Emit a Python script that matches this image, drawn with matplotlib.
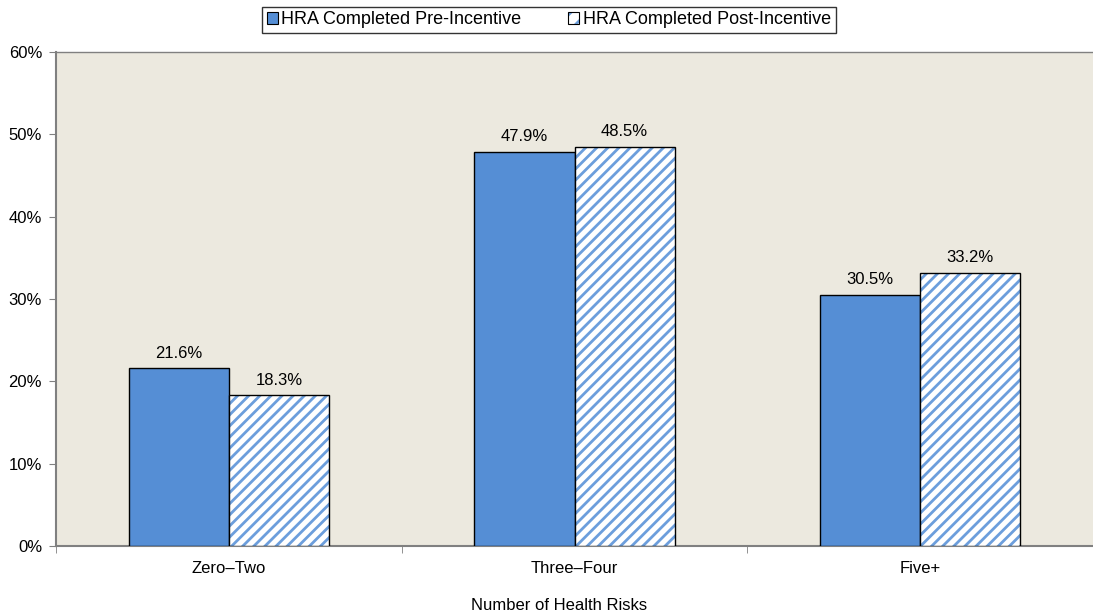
import matplotlib
matplotlib.use("Agg")
import matplotlib.pyplot as plt
from matplotlib.patches import Patch
from matplotlib.legend_handler import HandlerTuple

categories = ["Zero\u2013Two", "Three\u2013Four", "Five+"]
pre_incentive = [21.6, 47.9, 30.5]
post_incentive = [18.3, 48.5, 33.2]
series_names = ["HRA Completed Pre-Incentive", "HRA Completed Post-Incentive"]
y_ticks = [0, 10, 20, 30, 40, 50, 60]

blue = "#558ED5"
stripe = "#6C9EDC"
plt.rcParams["font.family"] = ["Liberation Sans", "DejaVu Sans"]
plt.rcParams["hatch.linewidth"] = 2.0

fig = plt.figure(figsize=(10.93, 6.15), dpi=100)
ax = fig.add_axes([56 / 1093, 1 - 546 / 615, (1093 - 56) / 1093, (546 - 52) / 615])
ax.set_facecolor("#ECE9DF")

x = list(range(len(categories)))
w = 0.29
pre_x = [i - w / 2 for i in x]
post_x = [i + w / 2 for i in x]
b1 = ax.bar(pre_x, pre_incentive, width=w, color=blue,
            edgecolor="black", linewidth=1.0, zorder=3)
# striped fill, then a plain black outline on top
ax.bar(post_x, post_incentive, width=w, facecolor="white",
       edgecolor=stripe, linewidth=0, hatch="///", zorder=3)
b2 = ax.bar(post_x, post_incentive, width=w, facecolor="none",
            edgecolor="black", linewidth=1.0, zorder=4)
for bars in (b1, b2):
    for r in bars:
        ax.text(r.get_x() + r.get_width() / 2, r.get_height() + 0.9,
                f"{r.get_height():.1f}%", ha="center", va="bottom", fontsize=12)

ax.set_xlim(-0.5, 2.5)
ax.set_ylim(0, 60)
ax.set_yticks(y_ticks)
ax.set_yticklabels([f"{t}%" for t in y_ticks], fontsize=12)
ax.set_xticks(x)
ax.set_xticklabels(categories, fontsize=12)
ax.tick_params(axis="x", length=0, pad=11)
ax.set_xticks([-0.5, 0.5, 1.5, 2.5], minor=True)
ax.tick_params(axis="x", which="minor", length=5, color="#808080")
ax.tick_params(axis="y", length=5, color="#808080", pad=5)
for s in ("left", "bottom", "top"):
    ax.spines[s].set_color("#808080")
    ax.spines[s].set_linewidth(1.5)
ax.spines["top"].set_linewidth(1.0)
ax.spines["right"].set_visible(False)
fig.text(559 / 1093, 1 - 605 / 615, "Number of Health Risks", fontsize=12,
         ha="center", va="center")

pre_handle = Patch(facecolor=blue, edgecolor="black", linewidth=0.8)
post_handle = (Patch(facecolor="white", edgecolor=stripe, linewidth=0, hatch="//"),
               Patch(facecolor="none", edgecolor="black", linewidth=0.8))
leg = fig.legend([pre_handle, post_handle], series_names, loc="center", ncol=2,
                 bbox_to_anchor=(549 / 1093, 1 - 20 / 615), fontsize=13,
                 frameon=True, fancybox=False, edgecolor="black",
                 handlelength=0.6, handleheight=0.6, handletextpad=0.2,
                 columnspacing=2.6, borderpad=0.25,
                 handler_map={tuple: HandlerTuple(ndivide=1, pad=0)})
leg.get_frame().set_linewidth(1.0)

fig.savefig("out.png", dpi=100)
